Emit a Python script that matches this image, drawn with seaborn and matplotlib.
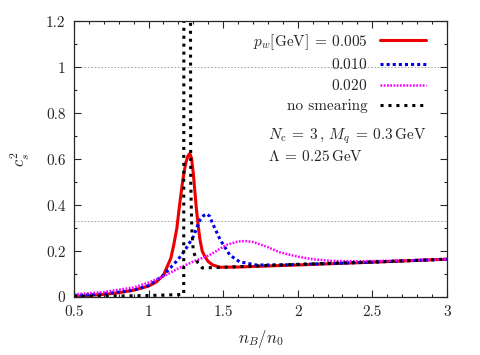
import numpy as np
import pandas as pd
import matplotlib
matplotlib.use("Agg")
import matplotlib.pyplot as plt
from matplotlib.ticker import MultipleLocator
import seaborn as sns

# values
x_red = [0.5, 0.6, 0.7, 0.8, 0.9, 1.0, 1.05, 1.1, 1.15, 1.17, 1.19, 1.21, 1.23, 1.25, 1.265,
         1.277, 1.288, 1.30, 1.31, 1.32, 1.335, 1.345, 1.36, 1.378, 1.4, 1.43, 1.48, 1.6,
         2.0, 2.5, 3.0]
y_red = [0.004, 0.007, 0.012, 0.019, 0.03, 0.048, 0.065, 0.095, 0.17, 0.23, 0.3, 0.41, 0.51, 0.585, 0.615,
         0.625, 0.605, 0.54, 0.465, 0.39, 0.3, 0.25, 0.2, 0.176, 0.155, 0.14, 0.13, 0.131,
         0.14, 0.152, 0.165]

x_blue = [0.5, 0.7, 0.9, 1.0, 1.1, 1.2, 1.25, 1.3, 1.345, 1.37, 1.39, 1.41, 1.43, 1.48,
          1.545, 1.61, 1.72, 1.9, 2.0, 2.5, 3.0]
y_blue = [0.007, 0.014, 0.03, 0.05, 0.095, 0.165, 0.21, 0.263, 0.336, 0.355, 0.362, 0.352, 0.32, 0.25,
          0.183, 0.154, 0.14, 0.14, 0.142, 0.152, 0.165]

x_mag = [0.5, 0.7, 0.9, 1.0, 1.1, 1.2, 1.3, 1.41, 1.52, 1.6, 1.65, 1.7, 1.79, 1.88,
         2.0, 2.1, 2.22, 2.4, 2.6, 3.0]
y_mag = [0.012, 0.022, 0.042, 0.063, 0.09, 0.125, 0.155, 0.183, 0.227, 0.242, 0.244, 0.24, 0.22, 0.195,
         0.176, 0.165, 0.158, 0.156, 0.158, 0.165]

x_black = [0.5, 0.8, 1.0, 1.1, 1.2, 1.236, 1.237, 1.281, 1.283, 1.29, 1.30, 1.33, 1.36,
           1.5, 1.88, 2.5, 3.0]
y_black = [0.003, 0.005, 0.007, 0.009, 0.011, 0.012, 1.4, 1.4, 0.5, 0.3, 0.2, 0.15, 0.127,
           0.13, 0.14, 0.153, 0.165]

labels = [r"$p_w[\mathrm{GeV}]\:=\:0.005$", r"$0.010$", r"$0.020$", "no smearing"]

sns.set_style("ticks")
plt.rcParams["font.family"] = ["serif"]
plt.rcParams["font.serif"] = ["cmr10", "DejaVu Serif"]
plt.rcParams["mathtext.fontset"] = "cm"
plt.rcParams["axes.formatter.use_mathtext"] = True
plt.rcParams["font.size"] = 11

fig = plt.figure(figsize=(4.8, 3.55), dpi=100)
ax = fig.add_axes([0.154, 0.163, 0.777, 0.777])

# reference lines at c_s^2 = 1 and 1/3
for yv in [1.0, 1.0 / 3.0]:
    ax.axhline(yv, color="#999999", lw=0.6, ls=(0, (2, 2)), zorder=0)

series = [
    (x_red, y_red, "#ee0000", 2.2, "-"),
    (x_blue, y_blue, "#0000ee", 2.2, (0, (1, 1))),
    (x_mag, y_mag, "#ff00ff", 1.8, (0, (0.7, 0.6))),
    (x_black, y_black, "black", 2.2, (0, (1, 1.6))),
]
for (xs, ys, col, lw, ls), lab in zip(series, labels):
    df = pd.DataFrame({"x": xs, "y": ys})
    sns.lineplot(data=df, x="x", y="y", color=col, lw=lw, linestyle=ls,
                 label=lab, ax=ax, sort=False, estimator=None)
for ln in ax.get_lines()[2:]:
    ln.set_dash_capstyle("butt")

ax.set_xlim(0.5, 3.0)
ax.set_ylim(0, 1.2)
ax.xaxis.set_minor_locator(MultipleLocator(0.1))
ax.yaxis.set_minor_locator(MultipleLocator(0.1))
ax.set_xticks([0.5, 1, 1.5, 2, 2.5, 3])
ax.set_xticklabels(["0.5", "1", "1.5", "2", "2.5", "3"])
ax.set_yticks([0, 0.2, 0.4, 0.6, 0.8, 1.0, 1.2])
ax.set_yticklabels(["0", "0.2", "0.4", "0.6", "0.8", "1", "1.2"])
ax.tick_params(which="both", direction="in", top=True, right=True, labelsize=11, pad=6)
ax.tick_params(which="major", length=5, width=0.8)
ax.tick_params(which="minor", length=2.5, width=0.8)
for sp in ax.spines.values():
    sp.set_linewidth(0.9)

ax.set_xlabel(r"$n_B/n_0$", fontsize=12, labelpad=6)
ax.set_ylabel(r"$c_s^2$", fontsize=12, labelpad=10)

ax.legend(loc="upper right", bbox_to_anchor=(0.972, 1.0), frameon=False, markerfirst=False,
          handlelength=3.0, labelspacing=0.38, fontsize=11, alignment="right",
          borderaxespad=0.3, handletextpad=0.8)

ax.text(1.80, 0.70, r"$N_{\rm c}\:=\:3\,,\: M_q\:=\:0.3\,\mathrm{GeV}$", fontsize=11, va="center")
ax.text(1.80, 0.61, r"$\Lambda\:=\:0.25\,\mathrm{GeV}$", fontsize=11, va="center")

fig.savefig("out.png", dpi=100)
